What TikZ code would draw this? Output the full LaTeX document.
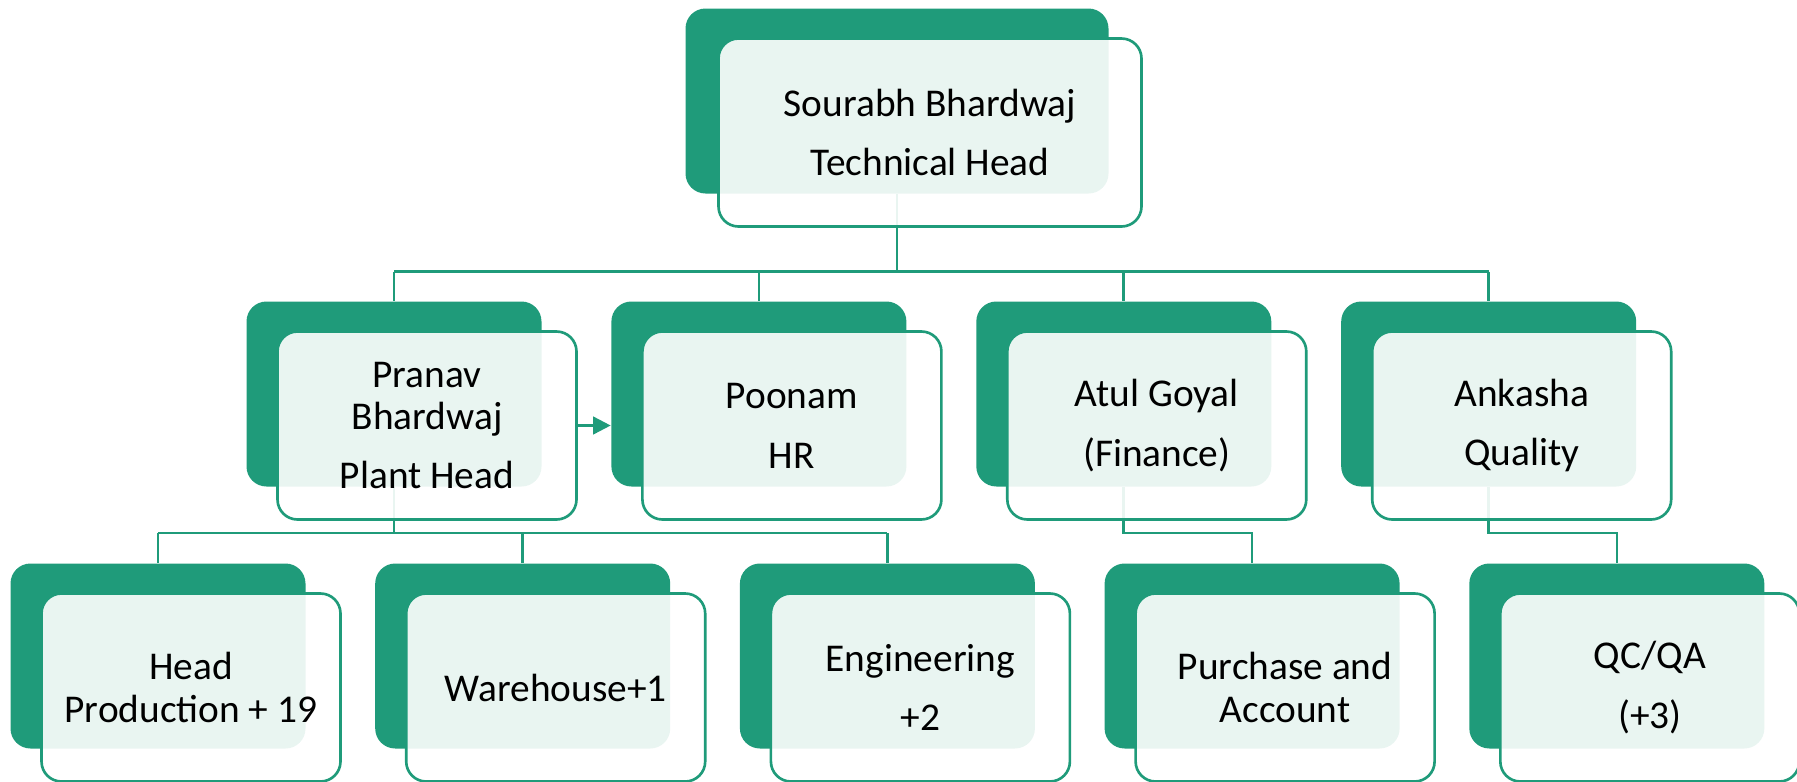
\documentclass[tikz,border=0pt]{standalone}
\usepackage{fontspec}
\setmainfont{Carlito}
\usepackage{xcolor}
\usepackage{tikz}
\usetikzlibrary{positioning, arrows.meta}

\definecolor{orggreen}{HTML}{1F9B7A}

\begin{document}
\begin{tikzpicture}[
    back/.style={rectangle, fill=orggreen, rounded corners=0.2cm, minimum width=2.95cm, minimum height=1.85cm, inner sep=0pt},
    front/.style={rectangle, draw=orggreen, line width=0.75pt, fill=white, fill opacity=0.9, text opacity=1, rounded corners=0.2cm, minimum width=2.99cm, minimum height=1.88cm, inner sep=0pt, align=center, font=\fontsize{11.2}{12}\selectfont},
    wide/.style={minimum width=4.23cm},
    link/.style={draw=orggreen, line width=0.75pt},
    arrow/.style={-{Triangle[length=5pt, width=5pt]}, draw=orggreen, fill=orggreen, line width=0.75pt}
]
\useasboundingbox (0,0) rectangle (17.97,-7.82);

% Back cards
\node[back, wide] (sourabhB) at (8.97,-1.01) {};

\node[back] (pranavB) at (3.94,-3.94) {};
\node[back, right=0.685cm of pranavB] (poonamB) {};
\node[back, right=0.685cm of poonamB] (atulB) {};
\node[back, right=0.685cm of atulB] (ankashaB) {};

\node[back] (headB) at (1.58,-6.56) {};
\node[back, right=0.683cm of headB] (wareB) {};
\node[back, right=0.683cm of wareB] (engB) {};
\node[back, right=0.683cm of engB] (purchaseB) {};
\node[back, right=0.683cm of purchaseB] (qcB) {};

% Connectors
\coordinate (bus1) at (0,-2.716);
\coordinate (bus2) at (0,-5.33);
\draw[link] (sourabhB.south) -- (sourabhB.south |- bus1);
\draw[link] (pranavB.north |- bus1) -- (ankashaB.north |- bus1);
\foreach \n in {pranavB, poonamB, atulB, ankashaB}
    \draw[link] (\n.north |- bus1) -- (\n.north);

\draw[link] (pranavB.south) -- (pranavB.south |- bus2);
\draw[link] (headB.north |- bus2) -- (engB.north |- bus2);
\foreach \n in {headB, wareB, engB}
    \draw[link] (\n.north |- bus2) -- (\n.north);
\draw[link] (atulB.south) |- (purchaseB.north |- bus2) -- (purchaseB.north);
\draw[link] (ankashaB.south) |- (qcB.north |- bus2) -- (qcB.north);

% Front cards
\node[front, wide] (sourabh) at ([shift={(0.33,-0.315)}]sourabhB.center) {Sourabh Bhardwaj\\[5pt]Technical Head};

\node[front] (pranav) at ([shift={(0.33,-0.315)}]pranavB.center) {Pranav\\Bhardwaj\\[5pt]Plant Head};
\node[front] (poonam) at ([shift={(0.33,-0.315)}]poonamB.center) {Poonam\\[5pt]HR};
\node[front] (atul) at ([shift={(0.33,-0.315)}]atulB.center) {Atul Goyal\\[5pt](Finance)};
\node[front] (ankasha) at ([shift={(0.33,-0.315)}]ankashaB.center) {Ankasha\\[5pt]Quality};

\node[front] (head) at ([shift={(0.33,-0.315)}]headB.center) {Head\\Production + 19};
\node[front] (ware) at ([shift={(0.33,-0.315)}]wareB.center) {Warehouse+1};
\node[front] (eng) at ([shift={(0.33,-0.315)}]engB.center) {Engineering\\[5pt]+2};
\node[front] (purchase) at ([shift={(0.33,-0.315)}]purchaseB.center) {Purchase and\\Account};
\node[front] (qc) at ([shift={(0.33,-0.315)}]qcB.center) {QC/QA\\[5pt](+3)};

% Side link
\draw[arrow] (pranav.east) -- (poonamB.west |- pranav.east);

\end{tikzpicture}
\end{document}
